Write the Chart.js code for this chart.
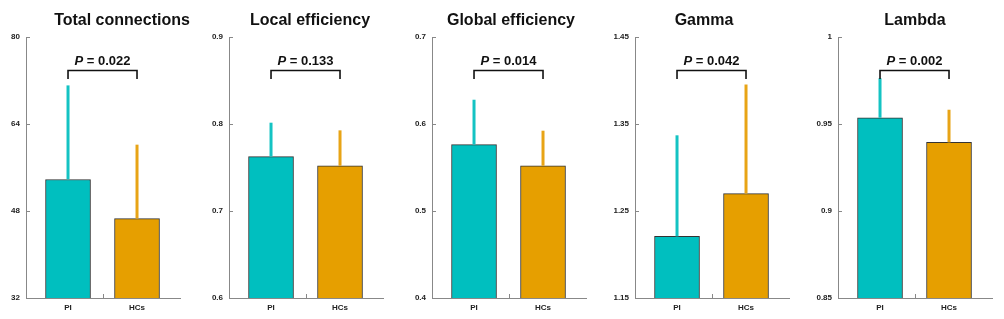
<!DOCTYPE html>
<html>
<head>
<meta charset="utf-8">
<script src="https://cdn.jsdelivr.net/npm/chart.js@4/dist/chart.umd.min.js"></script>
<style>
  html, body { margin: 0; padding: 0; background: #fff; overflow: hidden; }
  #wrap { position: relative; width: 1004px; height: 319px; }
  .panel { position: absolute; top: 0; width: 200px; height: 319px; }
</style>
</head>
<body>
<div id="wrap"></div>
<script>
// ---- data ----
const titles = ['Total connections', 'Local efficiency', 'Global efficiency', 'Gamma', 'Lambda'];
const groups = ['PI', 'HCs'];
const piMean = [53.8, 0.7625, 0.5763, 1.2208, 0.9536];
const piSD = [17.3, 0.039, 0.0516, 0.1162, 0.0227];
const hcMean = [46.6, 0.752, 0.552, 1.27, 0.9394];
const hcSD = [13.6, 0.0407, 0.0403, 0.1254, 0.0188];
const pValues = ['0.022', '0.133', '0.014', '0.042', '0.002'];
const yMin = [32, 0.6, 0.4, 1.15, 0.85];
const yMax = [80, 0.9, 0.7, 1.45, 1];
const yTickLabels = [
  ['32', '48', '64', '80'],
  ['0.6', '0.7', '0.8', '0.9'],
  ['0.4', '0.5', '0.6', '0.7'],
  ['1.15', '1.25', '1.35', '1.45'],
  ['0.85', '0.9', '0.95', '1']
];

// ---- layout / style ----
const axisLeft = [26, 229, 432, 635, 838];   // page x of each y axis
const titleCenter = [122, 310, 511, 704, 915]; // page x of each title centre
const barColors = ['#00BFBF', '#E69F00'];
const errColors = ['#14C3C3', '#E8A416'];
const axisColor = '#888';
const FONT = 'Arial, "Liberation Sans", sans-serif';

// error bars (upward only), inward tick marks, bracket with p value, title
const decorations = {
  id: 'decorations',
  afterDatasetsDraw(chart, args, opts) {
    const { ctx, chartArea, scales } = chart;
    const y = scales.y, x = scales.x;
    const meta = chart.getDatasetMeta(0);
    const sds = opts.sds, means = opts.means;

    // error bars
    ctx.save();
    ctx.lineCap = 'butt';
    meta.data.forEach((bar, i) => {
      const top = y.getPixelForValue(means[i] + sds[i]);
      ctx.strokeStyle = errColors[i];
      ctx.lineWidth = 3;
      ctx.beginPath();
      ctx.moveTo(bar.x, bar.y);
      ctx.lineTo(bar.x, top);
      ctx.stroke();
    });
    ctx.restore();

    // tick marks pointing into the plot
    ctx.save();
    ctx.strokeStyle = axisColor;
    ctx.lineWidth = 1;
    y.ticks.forEach(t => {
      const py = Math.round(y.getPixelForValue(t.value)) + 0.5;
      ctx.beginPath();
      ctx.moveTo(chartArea.left, py);
      ctx.lineTo(chartArea.left + 4, py);
      ctx.stroke();
    });
    const mx = Math.round(x.getPixelForValue(0.5)) + 0.5;
    ctx.beginPath();
    ctx.moveTo(mx, chartArea.bottom);
    ctx.lineTo(mx, chartArea.bottom - 4);
    ctx.stroke();
    ctx.restore();

    // significance bracket
    const x0 = meta.data[0].x, x1 = meta.data[1].x;
    const by = chartArea.top + 33.5;
    ctx.save();
    ctx.strokeStyle = '#111';
    ctx.lineWidth = 1.6;
    ctx.beginPath();
    ctx.moveTo(x0, by + 8.5);
    ctx.lineTo(x0, by);
    ctx.lineTo(x1, by);
    ctx.lineTo(x1, by + 8.5);
    ctx.stroke();

    const pPart = 'P';
    const rest = ' = ' + opts.p;
    ctx.fillStyle = '#111';
    ctx.textBaseline = 'alphabetic';
    ctx.font = 'italic bold 13px ' + FONT;
    const w1 = ctx.measureText(pPart).width;
    ctx.font = 'bold 13px ' + FONT;
    const w2 = ctx.measureText(rest).width;
    const sx = (x0 + x1) / 2 - (w1 + w2) / 2;
    const ty = chartArea.top + 28;
    ctx.font = 'italic bold 13px ' + FONT;
    ctx.fillText(pPart, sx, ty);
    ctx.font = 'bold 13px ' + FONT;
    ctx.fillText(rest, sx + w1, ty);

    // title
    ctx.font = 'bold 16px ' + FONT;
    ctx.textAlign = 'center';
    ctx.fillText(opts.title, opts.titleX, 25);
    ctx.restore();
  }
};

const wrap = document.getElementById('wrap');

titles.forEach((title, i) => {
  const div = document.createElement('div');
  div.className = 'panel';
  const left = axisLeft[i] - 26;
  div.style.left = left + 'px';
  const canvas = document.createElement('canvas');
  div.appendChild(canvas);
  wrap.appendChild(div);

  const means = [piMean[i], hcMean[i]];
  const sds = [piSD[i], hcSD[i]];
  const tickVals = yTickLabels[i].map(Number);

  new Chart(canvas, {
    type: 'bar',
    data: {
      datasets: [{
        data: groups.map((g, k) => ({ x: k, y: means[k] })),
        backgroundColor: barColors,
        borderColor: '#333',
        borderWidth: 1,
        barThickness: 45
      }]
    },
    options: {
      responsive: true,
      maintainAspectRatio: false,
      animation: false,
      layout: { padding: { top: 37, right: 20, left: 0, bottom: 0 } },
      plugins: {
        legend: { display: false },
        tooltip: { enabled: false },
        title: { display: false },
        decorations: { means, sds, p: pValues[i], title, titleX: titleCenter[i] - left }
      },
      scales: {
        x: {
          type: 'linear',
          offset: false,
          min: -0.609,
          max: 1.623,
          grid: { display: false, drawTicks: false, offset: false },
          border: { display: true, color: axisColor, width: 1 },
          afterBuildTicks: s => { s.ticks = [{ value: 0 }, { value: 1 }]; },
          afterFit: s => { s.height = 21; },
          ticks: {
            padding: 5,
            color: '#222',
            font: { family: FONT, size: 8, weight: 'bold' },
            callback: v => groups[v]
          }
        },
        y: {
          min: yMin[i],
          max: yMax[i],
          grid: { display: false, drawTicks: false },
          border: { display: true, color: axisColor, width: 1 },
          afterBuildTicks: s => { s.ticks = tickVals.map(v => ({ value: v })); },
          afterFit: s => { s.width = 26; },
          ticks: {
            padding: 6,
            color: '#222',
            font: { family: FONT, size: 8, weight: 'bold' },
            callback: (v, k) => yTickLabels[i][k]
          }
        }
      }
    },
    plugins: [decorations]
  });
});
</script>
</body>
</html>
